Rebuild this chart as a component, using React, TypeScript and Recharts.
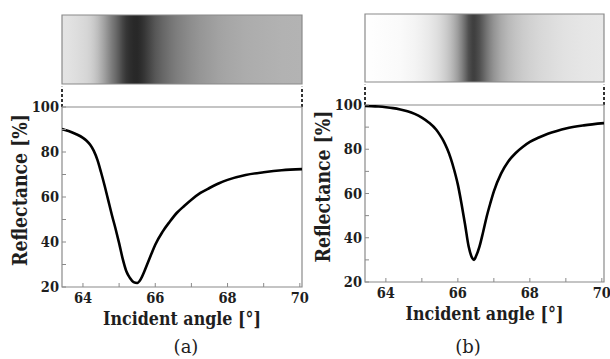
import React from 'react';
import { ComposedChart, Line, XAxis, YAxis, ReferenceArea, ReferenceLine } from 'recharts';

// Panel (a) data
const anglesA = [63.42, 63.6, 63.8, 64.0, 64.1, 64.2, 64.3, 64.4, 64.5, 64.6, 64.7, 64.8, 64.9, 65.0, 65.1, 65.2, 65.3, 65.4, 65.5, 65.6, 65.7, 65.8, 65.9, 66.0, 66.2, 66.4, 66.6, 66.8, 67.0, 67.25, 67.5, 67.75, 68.0, 68.5, 69.0, 69.5, 70.06];
const reflA = [90.2, 89.3, 88.0, 86.3, 85.0, 83.2, 80.5, 76.5, 71.0, 65.0, 58.5, 52.0, 46.0, 39.5, 32.5, 27.0, 24.0, 22.2, 21.8, 23.5, 27.0, 31.0, 35.0, 38.8, 44.5, 49.0, 53.0, 56.0, 58.8, 61.8, 64.0, 66.0, 67.6, 69.8, 71.0, 71.9, 72.4];

// Panel (b) data
const anglesB = [63.42, 63.6, 63.8, 64.0, 64.2, 64.4, 64.6, 64.8, 65.0, 65.2, 65.4, 65.5, 65.6, 65.7, 65.8, 65.9, 66.0, 66.1, 66.2, 66.3, 66.4, 66.45, 66.5, 66.6, 66.7, 66.8, 66.9, 67.0, 67.2, 67.4, 67.6, 67.8, 68.0, 68.25, 68.5, 68.75, 69.0, 69.5, 70.06];
const reflB = [99.6, 99.5, 99.3, 99.0, 98.6, 98.0, 97.2, 96.0, 94.3, 92.0, 88.8, 86.5, 83.8, 80.3, 76.0, 70.5, 64.0, 55.5, 46.0, 36.0, 30.8, 30.0, 31.5, 36.0, 42.5, 49.5, 55.5, 61.0, 69.0, 74.5, 78.2, 81.0, 83.3, 85.3, 87.0, 88.3, 89.4, 90.8, 91.8];

const xTicks = [64, 65, 66, 67, 68, 69, 70];
const xLabelTicks = [64, 66, 68, 70];
const yTicks = [20, 30, 40, 50, 60, 70, 80, 90, 100];
const yLabelTicks = [20, 40, 60, 80, 100];
const xDomain: [number, number] = [63.42, 70.06];
const yDomain: [number, number] = [20, 100];

const SERIF = "'DejaVu Serif Condensed', 'DejaVu Serif', serif";
const FRAME = '#8a8a8a';
const TXT = '#1e1e1e';

const gray = (r: number) => {
  const v = Math.round(Math.max(0, Math.min(255, 255 - (100 - r) * 2.75)));
  return `rgb(${v},${v},${v})`;
};

const XTick = (props: any) => {
  const { x, y, payload } = props;
  if (!xLabelTicks.includes(payload.value)) return <g />;
  return (
    <text x={x} y={y} dy="0.73em" textAnchor="middle" style={{ fontFamily: SERIF, fontWeight: 700, fontSize: 14.5 }} fill={TXT}>
      {payload.value}
    </text>
  );
};

const YTick = (props: any) => {
  const { x, y, payload } = props;
  if (!yLabelTicks.includes(payload.value)) return <g />;
  return (
    <text x={x} y={y} dy="0.36em" textAnchor="end" style={{ fontFamily: SERIF, fontWeight: 700, fontSize: 14.5 }} fill={TXT}>
      {payload.value}
    </text>
  );
};

type PanelProps = {
  id: string;
  angles: number[];
  refl: number[];
  left: number;
  yAxisWidth: number;
  rightMargin: number;
  stripTop: number;
  stripBottom: number;
  plotTop: number;
  plotBottom: number;
  yLabelX: number;
  caption: string;
  captionX: number;
};

const Panel = (p: PanelProps) => {
  const data = p.angles.map((a, i) => ({ x: a, r: p.refl[i] }));
  const width = 310;
  const stripH = p.plotTop;
  const stripFrac = (p.plotTop - p.stripBottom) / (p.plotTop - p.stripTop);
  const mainTop = 90;
  const mainH = 240;
  return (
    <div style={{ position: 'absolute', left: p.left, top: 0, width, height: 359 }}>
      <div style={{ position: 'absolute', left: 0, top: 0 }}>
        <ComposedChart width={width} height={stripH} data={data} margin={{ top: p.stripTop, left: p.yAxisWidth, right: p.rightMargin, bottom: 0 }}>
          <defs>
            <linearGradient id={`grad-${p.id}`} x1="0" y1="0" x2="1" y2="0">
              {data.map((d, i) => (
                <stop key={i} offset={(d.x - xDomain[0]) / (xDomain[1] - xDomain[0])} stopColor={gray(d.r)} />
              ))}
            </linearGradient>
          </defs>
          <XAxis type="number" dataKey="x" domain={xDomain} allowDataOverflow hide />
          <YAxis type="number" domain={[0, 1]} allowDataOverflow hide />
          <ReferenceArea x1={xDomain[0]} x2={xDomain[1]} y1={stripFrac} y2={1} fill={`url(#grad-${p.id})`} fillOpacity={1} stroke={FRAME} strokeWidth={1.2} />
          <ReferenceLine segment={[{ x: xDomain[0], y: 0 }, { x: xDomain[0], y: stripFrac - 0.03 }]} stroke="#333" strokeWidth={2} strokeDasharray="3 2" />
          <ReferenceLine segment={[{ x: xDomain[1], y: 0 }, { x: xDomain[1], y: stripFrac - 0.03 }]} stroke="#333" strokeWidth={2} strokeDasharray="3 2" />
        </ComposedChart>
      </div>
      <div style={{ position: 'absolute', left: 0, top: mainTop }}>
        <ComposedChart width={width} height={mainH} data={data} margin={{ top: p.plotTop - mainTop, left: 0, right: p.rightMargin, bottom: 0 }}>
          <XAxis
            type="number"
            dataKey="x"
            domain={xDomain}
            ticks={xTicks}
            allowDataOverflow
            axisLine={false}
            tickSize={-4}
            tickMargin={9}
            tickLine={{ stroke: FRAME }}
            tick={XTick}
            height={mainTop + mainH - p.plotBottom}
            interval={0}
            label={{
              content: (lp: any) => {
                const vb = lp.viewBox;
                return (
                  <text x={vb.x + vb.width / 2} y={vb.y + 31} dy="0.36em" textAnchor="middle" textLength={158} lengthAdjust="spacingAndGlyphs" style={{ fontFamily: SERIF, fontWeight: 700, fontSize: 18.5 }} fill={TXT}>
                    Incident angle [°]
                  </text>
                );
              },
            }}
          />
          <YAxis
            type="number"
            domain={yDomain}
            ticks={yTicks}
            allowDataOverflow
            axisLine={false}
            tickSize={-4}
            tickMargin={7}
            tickLine={{ stroke: FRAME }}
            tick={YTick}
            width={p.yAxisWidth}
            interval={0}
            label={{
              content: (lp: any) => {
                const vb = lp.viewBox;
                const cx = vb.x + p.yLabelX;
                const cy = vb.y + vb.height / 2 - 7;
                return (
                  <text x={cx} y={cy} dy="0.36em" textAnchor="middle" textLength={152} lengthAdjust="spacingAndGlyphs" transform={`rotate(-90 ${cx} ${cy})`} style={{ fontFamily: SERIF, fontWeight: 700, fontSize: 20 }} fill={TXT}>
                    Reflectance [%]
                  </text>
                );
              },
            }}
          />
          <ReferenceArea x1={xDomain[0]} x2={xDomain[1]} y1={yDomain[0]} y2={yDomain[1]} fill="none" stroke={FRAME} strokeWidth={1.2} />
          <Line type="monotone" dataKey="r" stroke="#000" strokeWidth={2.6} dot={false} isAnimationActive={false} />
        </ComposedChart>
      </div>
      <div style={{ position: 'absolute', left: p.captionX - 30, top: 336, width: 60, textAlign: 'center', fontFamily: "'DejaVu Serif', serif", fontSize: 18, lineHeight: '22px', color: TXT }}>
        {p.caption}
      </div>
    </div>
  );
};

export default function App() {
  return (
    <div style={{ position: 'absolute', left: 0, top: 0, width: 610, height: 359, background: '#fff', overflow: 'hidden' }}>
      <Panel id="a" angles={anglesA} refl={reflA} left={0} yAxisWidth={62} rightMargin={8} stripTop={15} stripBottom={84} plotTop={107} plotBottom={287} yLabelX={20} caption="(a)" captionX={186} />
      <Panel id="b" angles={anglesB} refl={reflB} left={300} yAxisWidth={65} rightMargin={6} stripTop={14} stripBottom={82} plotTop={105} plotBottom={282} yLabelX={23} caption="(b)" captionX={168} />
    </div>
  );
}
